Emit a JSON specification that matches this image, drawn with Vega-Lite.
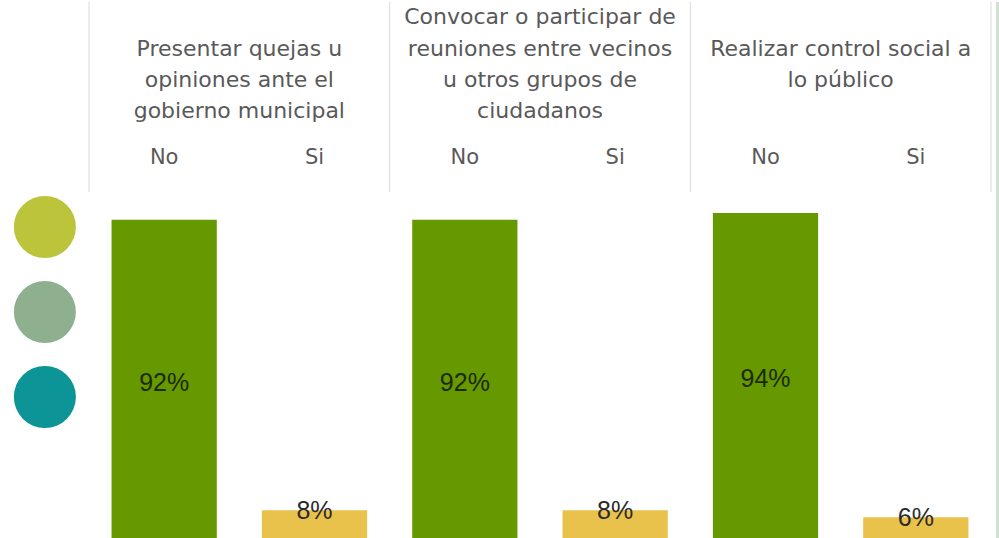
{
  "$schema": "https://vega.github.io/schema/vega-lite/v6.json",
  "padding": 0,
  "spacing": 0,
  "background": "white",
  "resolve": {"scale": {"color": "independent", "x": "independent", "y": "independent"}},
  "config": {"view": {"stroke": null}, "font": "Liberation Sans"},
  "datasets": {
    "barras": [
      {"grupo": "G1", "respuesta": "No", "valor": 92},
      {"grupo": "G1", "respuesta": "Si", "valor": 8},
      {"grupo": "G2", "respuesta": "No", "valor": 92},
      {"grupo": "G2", "respuesta": "Si", "valor": 8},
      {"grupo": "G3", "respuesta": "No", "valor": 94},
      {"grupo": "G3", "respuesta": "Si", "valor": 6}
    ],
    "grupos": [
      {"grupo": "G1", "titulo": "\nPresentar quejas u\nopiniones ante el\ngobierno municipal"},
      {"grupo": "G2", "titulo": "Convocar o participar de\nreuniones entre vecinos\nu otros grupos de\nciudadanos"},
      {"grupo": "G3", "titulo": "\n\nRealizar control social a\nlo público"}
    ]
  },
  "hconcat": [
    {
      "width": 88,
      "height": 536,
      "data": {"values": [{"serie": "A", "orden": 3}, {"serie": "B", "orden": 2}, {"serie": "C", "orden": 1}]},
      "mark": {"type": "circle", "size": 3850, "opacity": 1},
      "encoding": {
        "x": {"datum": 0.51, "type": "quantitative", "scale": {"domain": [0, 1]}, "axis": null},
        "y": {"field": "orden", "type": "quantitative", "scale": {"domain": [-0.659, 5.647], "nice": false, "zero": false}, "axis": null},
        "color": {"field": "serie", "type": "nominal", "scale": {"domain": ["A", "B", "C"], "range": ["#BCC43C", "#8FB08F", "#0C9497"]}, "legend": null}
      }
    },
    {
      "width": 902,
      "height": 536,
      "encoding": {
        "x": {"field": "grupo", "type": "nominal", "scale": {"domain": ["G1", "G2", "G3"], "paddingInner": 0, "paddingOuter": 0}, "axis": null}
      },
      "layer": [
        {
          "data": {"name": "grupos"},
          "mark": {"type": "rule", "color": "#D9D9D9", "strokeWidth": 1},
          "encoding": {
            "x": {"field": "grupo", "type": "nominal", "bandPosition": 0},
            "y": {"datum": 100, "type": "quantitative", "scale": {"domain": [0, 155], "nice": false}, "axis": null},
            "y2": {"datum": 155}
          }
        },
        {
          "data": {"name": "grupos"},
          "transform": [{"filter": "datum.grupo == 'G3'"}],
          "mark": {"type": "rule", "color": "#D9D9D9", "strokeWidth": 1},
          "encoding": {
            "x": {"field": "grupo", "type": "nominal", "bandPosition": 1},
            "y": {"datum": 100, "type": "quantitative"},
            "y2": {"datum": 155}
          }
        },
        {
          "data": {"name": "barras"},
          "mark": {"type": "bar"},
          "encoding": {
            "xOffset": {"field": "respuesta", "type": "nominal", "scale": {"domain": ["No", "Si"], "paddingInner": 0.3, "paddingOuter": 0.15}},
            "y": {"field": "valor", "type": "quantitative"},
            "color": {"field": "respuesta", "type": "nominal", "scale": {"domain": ["No", "Si"], "range": ["#669900", "#E9C24C"]}, "legend": null}
          }
        },
        {
          "data": {"name": "grupos"},
          "mark": {"type": "rule", "color": "#D9D9D9", "strokeWidth": 1.5},
          "encoding": {"y": {"datum": 0, "type": "quantitative"}}
        },
        {
          "data": {"name": "barras"},
          "transform": [{"filter": "datum.respuesta == 'No'"}, {"calculate": "datum.valor / 2", "as": "centro"}, {"calculate": "datum.valor + '%'", "as": "etiqueta"}],
          "mark": {"type": "text", "fontSize": 25, "color": "#1C2A02", "baseline": "middle", "dy": 4},
          "encoding": {
            "xOffset": {"field": "respuesta", "type": "nominal"},
            "y": {"field": "centro", "type": "quantitative"},
            "text": {"field": "etiqueta"}
          }
        },
        {
          "data": {"name": "barras"},
          "transform": [{"filter": "datum.respuesta == 'Si'"}, {"calculate": "datum.valor + '%'", "as": "etiqueta"}],
          "mark": {"type": "text", "fontSize": 25, "color": "#2A2A2A", "baseline": "middle", "dy": 1},
          "encoding": {
            "xOffset": {"field": "respuesta", "type": "nominal"},
            "y": {"field": "valor", "type": "quantitative"},
            "text": {"field": "etiqueta"}
          }
        },
        {
          "data": {"name": "barras"},
          "mark": {"type": "text", "font": "DejaVu Sans", "fontSize": 21, "color": "#595959", "baseline": "middle"},
          "encoding": {
            "xOffset": {"field": "respuesta", "type": "nominal"},
            "y": {"datum": 109.8, "type": "quantitative"},
            "text": {"field": "respuesta"}
          }
        },
        {
          "data": {"name": "grupos"},
          "mark": {"type": "text", "font": "DejaVu Sans", "fontSize": 22, "color": "#595959", "baseline": "alphabetic", "align": "center", "lineBreak": "\n", "lineHeight": 31.3},
          "encoding": {
            "y": {"datum": 148.5, "type": "quantitative"},
            "text": {"field": "titulo"}
          }
        }
      ]
    },
    {
      "width": 9,
      "height": 536,
      "data": {"values": [{"borde": 1}]},
      "mark": {"type": "rule", "color": "#CFE1CF", "strokeWidth": 3},
      "encoding": {
        "x": {"datum": 0.6, "type": "quantitative", "scale": {"domain": [0, 1]}, "axis": null}
      }
    }
  ]
}
